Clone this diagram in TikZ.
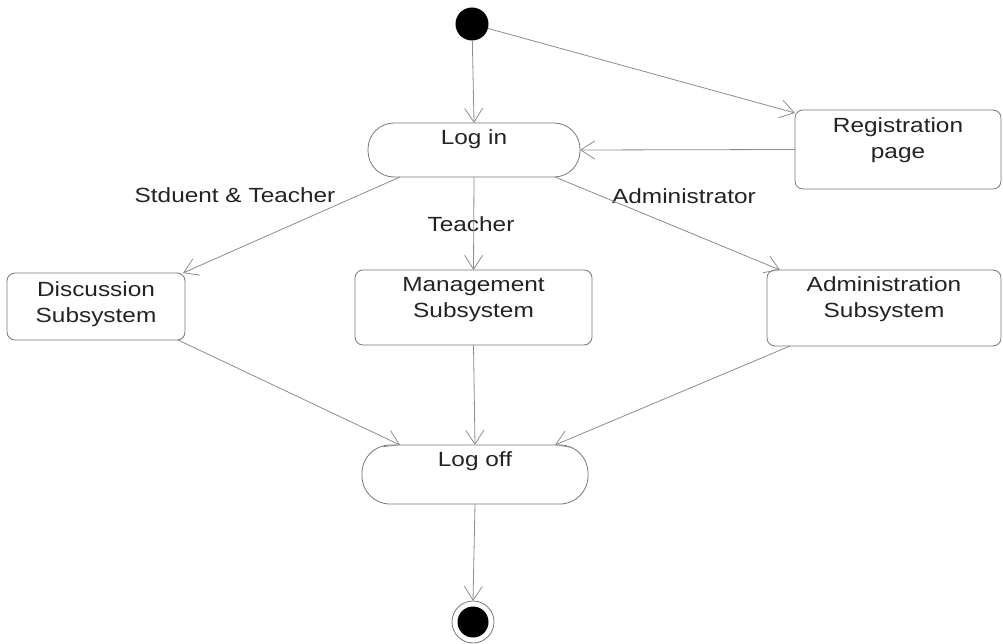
\documentclass[tikz,border=0pt]{standalone}
\usepackage{fontspec}
\setmainfont{Liberation Sans}[FakeStretch=1.19]
\usetikzlibrary{arrows.meta}
\definecolor{linegray}{RGB}{140,140,140}
\definecolor{boxgray}{RGB}{120,120,120}
\definecolor{inkgray}{RGB}{35,35,35}
\begin{document}
\begin{tikzpicture}[x=1pt,y=-1pt,
  every node/.style={inner sep=0pt, outer sep=0pt},
  flow/.style={draw=linegray, line width=0.8pt, -{Straight Barb[length=14pt,width=18pt]}},
  actbox/.style={draw=boxgray, line width=0.8pt, rounded corners=8pt},
  pill/.style={draw=boxgray, line width=0.8pt, rounded corners=26pt},
  caption/.style={text=inkgray, font=\fontsize{20.5}{26}\selectfont, align=center},
  startdot/.style={circle, fill=black, minimum size=33pt},
  enddot/.style={circle, draw=boxgray, line width=0.8pt, minimum size=42pt},
]
\useasboundingbox (0,0) rectangle (1003,644);

% initial and final states
\node[startdot] (init) at (472,24) {};
\node[enddot] (final) at (473,622) {};
\node[circle, fill=black, minimum size=31pt] (finalcore) at (final.center) {};

% activities
\node[pill, minimum width=212pt, minimum height=54pt] (login) at (474,150) {};
\node[actbox, minimum width=206pt, minimum height=79pt] (reg) at (898,149.5) {};
\node[actbox, minimum width=178pt, minimum height=67pt] (disc) at (96,306.5) {};
\node[actbox, minimum width=237pt, minimum height=75pt] (mgmt) at (473.5,307.5) {};
\node[actbox, minimum width=234pt, minimum height=76pt] (admin) at (884,308) {};
\node[pill, minimum width=226pt, minimum height=59pt, rounded corners=28pt] (logoff) at (475,474.5) {};

% activity texts
\node[caption, anchor=north] (login-t) at ([yshift=-7pt]login.north) {Log in};
\node[caption, anchor=north] (reg-t) at ([yshift=-8pt]reg.north) {Registration\\page};
\node[caption, anchor=north] (disc-t) at ([yshift=-9pt]disc.north) {Discussion\\Subsystem};
\node[caption, anchor=north] (mgmt-t) at ([yshift=-7pt]mgmt.north) {Management\\Subsystem};
\node[caption, anchor=north] (admin-t) at ([yshift=-7pt]admin.north) {Administration\\Subsystem};
\node[caption, anchor=north] (logoff-t) at ([yshift=-7pt]logoff.north) {Log off};

% guard labels
\node[caption, anchor=base] (g-st) at (235,203) {Stduent \& Teacher};
\node[caption, anchor=base] (g-t) at (471,232) {Teacher};
\node[caption, anchor=base] (g-a) at (684,204) {Administrator};

% transitions
\draw[flow] (init) -- (login.north);
\draw[flow] (init) -- ([yshift=-3pt]reg.north west);
\draw[flow] (reg.west) -- (login.east);
\draw[flow] ([xshift=-74pt]login.south) -- ([xshift=-2pt]disc.north east);
\draw[flow] (login.south) -- (mgmt.north);
\draw[flow] ([xshift=81pt]login.south) -- ([xshift=13pt]admin.north west);
\draw[flow] ([xshift=-7pt]disc.south east) -- ([xshift=-75pt]logoff.north);
\draw[flow] (mgmt.south) -- (logoff.north);
\draw[flow] ([xshift=23pt]admin.south west) -- ([xshift=80pt]logoff.north);
\draw[flow] (logoff.south) -- (final.north);
\end{tikzpicture}
\end{document}
